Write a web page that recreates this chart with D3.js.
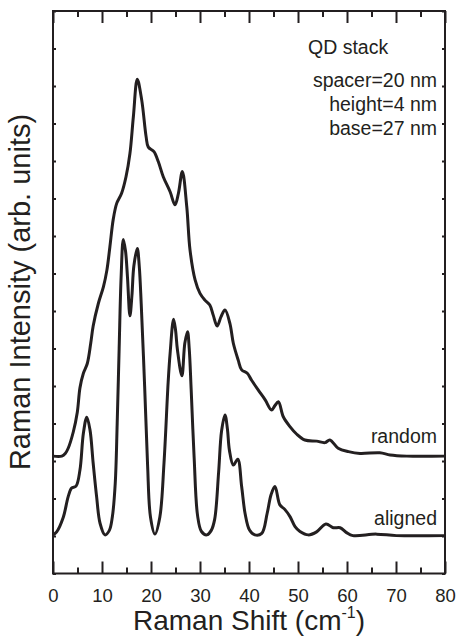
<!DOCTYPE html>
<html>
<head>
<meta charset="utf-8">
<script src="https://cdn.jsdelivr.net/npm/d3@7"></script>
<style>
  body { margin: 0; background: #fff; }
  svg { display: block; font-family: "Liberation Sans", Arial, sans-serif; }
</style>
</head>
<body>
<svg width="456" height="637"></svg>
<script>
"use strict";

// Raman spectra: [shift (cm-1), intensity (arb.)]
var randomSpectrum = [
  [0,3.13],[1.8,3.13],[2.5,3.2],[3.1,3.34],[4.15,3.78],[4.96,4.3],[5.5,4.95],[6.2,5.34],
  [7.0,5.6],[7.7,6.14],[8.2,6.6],[9.25,7.2],[10.3,7.65],[11.0,8.09],[11.6,8.7],[12.3,9.45],
  [13.0,9.87],[14.0,10.14],[14.9,10.58],[15.7,11.2],[16.4,12.18],[17.2,13.18],[18.1,12.63],
  [19.0,11.65],[19.45,11.37],[20.6,11.25],[21.5,10.98],[22.5,10.58],[23.9,10.18],[24.9,9.83],
  [25.6,10.14],[26.4,10.72],[27.3,9.78],[27.96,8.63],[29.0,7.83],[30.0,7.47],[31.0,7.29],
  [32.0,7.16],[32.7,6.89],[33.5,6.6],[34.3,6.85],[35.1,7.03],[36.1,6.67],[36.8,6.14],
  [37.8,5.69],[38.5,5.43],[39.65,5.34],[40.5,5.16],[41.9,4.89],[43.3,4.63],[44.6,4.36],
  [45.3,4.48],[46.0,4.58],[47.0,4.18],[48.4,3.91],[49.7,3.72],[51.4,3.56],[53.8,3.53],
  [55.5,3.49],[56.5,3.56],[58.2,3.34],[60.3,3.25],[62.65,3.2],[66.7,3.22],[68.8,3.16],
  [72.2,3.13],[80,3.13]
];

var alignedSpectrum = [
  [0,1.03],[0.75,1.11],[2.1,1.5],[3.1,2.05],[3.8,2.28],[4.7,2.33],[5.5,2.76],[6.2,3.74],
  [6.9,4.17],[7.55,3.83],[8.2,2.94],[8.9,2.05],[9.6,1.34],[10.6,1.03],[11.5,1.15],[12.1,1.5],
  [12.7,2.4],[13.1,4.0],[13.5,6.0],[13.9,7.9],[14.35,8.91],[14.8,8.6],[15.2,7.9],[15.7,6.87],
  [16.1,7.4],[16.5,8.2],[17.2,8.67],[17.6,8.2],[18.0,7.2],[18.7,5.0],[19.3,2.9],[19.9,1.5],
  [20.8,1.05],[21.8,1.5],[22.65,2.94],[23.5,5.1],[23.9,5.87],[24.6,6.78],[25.0,6.5],
  [25.4,5.96],[26.3,5.27],[26.9,6.14],[27.45,6.45],[27.8,6.0],[28.2,4.9],[28.8,3.1],
  [29.5,1.55],[30.3,1.12],[31.4,1.03],[32.3,1.15],[33.0,1.45],[33.8,2.7],[34.4,3.8],
  [35.1,4.23],[35.6,3.85],[36.0,3.29],[36.8,2.89],[37.7,3.05],[38.5,2.32],[39.2,1.6],
  [40.1,1.16],[41.2,1.03],[42.6,1.07],[43.7,1.6],[44.5,2.1],[45.3,2.32],[46.3,1.83],
  [47.3,1.71],[48.4,1.51],[49.4,1.25],[50.4,1.12],[52.1,1.03],[53.8,1.11],[55.7,1.32],
  [57.2,1.22],[58.6,1.22],[59.9,1.09],[61.2,1.01],[66,1.05],[70.1,1.01],[80,1.01]
];

var xMajorTicks = [0, 10, 20, 30, 40, 50, 60, 70, 80];
var xMinorTicks = [5, 15, 25, 35, 45, 55, 65, 75];
var yTicks = d3.range(0, 16);

var notes = ["spacer=20 nm", "height=4 nm", "base=27 nm"];

var ink = "#231f20";
var svg = d3.select("svg");

var x = d3.scaleLinear().domain([0, 80]).range([53, 445]);
var y = d3.scaleLinear().domain([0, 15]).range([573.5, 11]);

// frame
svg.append("rect")
    .attr("x", x(0)).attr("y", y(15))
    .attr("width", x(80) - x(0)).attr("height", y(0) - y(15))
    .attr("fill", "none").attr("stroke", ink).attr("stroke-width", 2);

// bottom axis
var bottomAxis = svg.append("g").attr("transform", "translate(0," + y(0) + ")");
bottomAxis.call(d3.axisBottom(x).tickValues(xMajorTicks).tickSize(-12).tickPadding(15).tickFormat(d3.format("d")));
bottomAxis.append("g").call(d3.axisBottom(x).tickValues(xMinorTicks).tickSize(-6).tickFormat(""));
bottomAxis.selectAll(".domain").remove();

// top axis
var topAxis = svg.append("g").attr("transform", "translate(0," + y(15) + ")");
topAxis.call(d3.axisTop(x).tickValues(xMajorTicks).tickSize(-12).tickFormat(""));
topAxis.append("g").call(d3.axisTop(x).tickValues(xMinorTicks).tickSize(-6).tickFormat(""));
topAxis.selectAll(".domain").remove();

// left / right axes, small inner ticks, no labels
var leftAxis = svg.append("g").attr("transform", "translate(" + x(0) + ",0)")
    .call(d3.axisLeft(y).tickValues(yTicks).tickSize(-3).tickFormat(""));
var rightAxis = svg.append("g").attr("transform", "translate(" + x(80) + ",0)")
    .call(d3.axisRight(y).tickValues(yTicks).tickSize(-3).tickFormat(""));
leftAxis.select(".domain").remove();
rightAxis.select(".domain").remove();

svg.selectAll(".tick line").attr("stroke", ink).attr("stroke-width", 2);
bottomAxis.attr("font-size", null).attr("font-family", null);
bottomAxis.selectAll(".tick text")
    .attr("fill", ink)
    .style("font-size", "18.5px");

// spectra
var line = d3.line()
    .x(function(d) { return x(d[0]); })
    .y(function(d) { return y(d[1]); })
    .curve(d3.curveCatmullRom.alpha(0.5));

[randomSpectrum, alignedSpectrum].forEach(function(s) {
  svg.append("path")
      .datum(s)
      .attr("d", line)
      .attr("fill", "none")
      .attr("stroke", ink)
      .attr("stroke-width", 3)
      .attr("stroke-linejoin", "round");
});

// labels
svg.append("text")
    .attr("x", 437).attr("y", 443)
    .attr("text-anchor", "end")
    .attr("fill", ink).style("font-size", "19.5px")
    .text("random");
svg.append("text")
    .attr("x", 437).attr("y", 525)
    .attr("text-anchor", "end")
    .attr("fill", ink).style("font-size", "19.5px")
    .text("aligned");

svg.append("text")
    .attr("x", 308).attr("y", 54)
    .attr("fill", ink).style("font-size", "19.5px")
    .text("QD stack");

svg.selectAll(".note")
    .data(notes)
    .enter()
      .append("text")
      .attr("class", "note")
      .attr("x", 437)
      .attr("y", function(d, i) { return 87 + i * 24; })
      .attr("text-anchor", "end")
      .attr("fill", ink).style("font-size", "19.5px")
      .text(function(d) { return d; });

// axis titles
var xTitle = svg.append("text")
    .attr("x", 249).attr("y", 630)
    .attr("text-anchor", "middle")
    .attr("fill", ink).style("font-size", "28px");
xTitle.append("tspan").text("Raman Shift (cm");
xTitle.append("tspan").attr("dy", -12).style("font-size", "16px").text("-1");
xTitle.append("tspan").attr("dy", 12).text(")");

svg.append("text")
    .attr("transform", "translate(30,292) rotate(-90)")
    .attr("text-anchor", "middle")
    .attr("fill", ink).style("font-size", "29px")
    .text("Raman Intensity (arb. units)");
</script>
</body>
</html>
